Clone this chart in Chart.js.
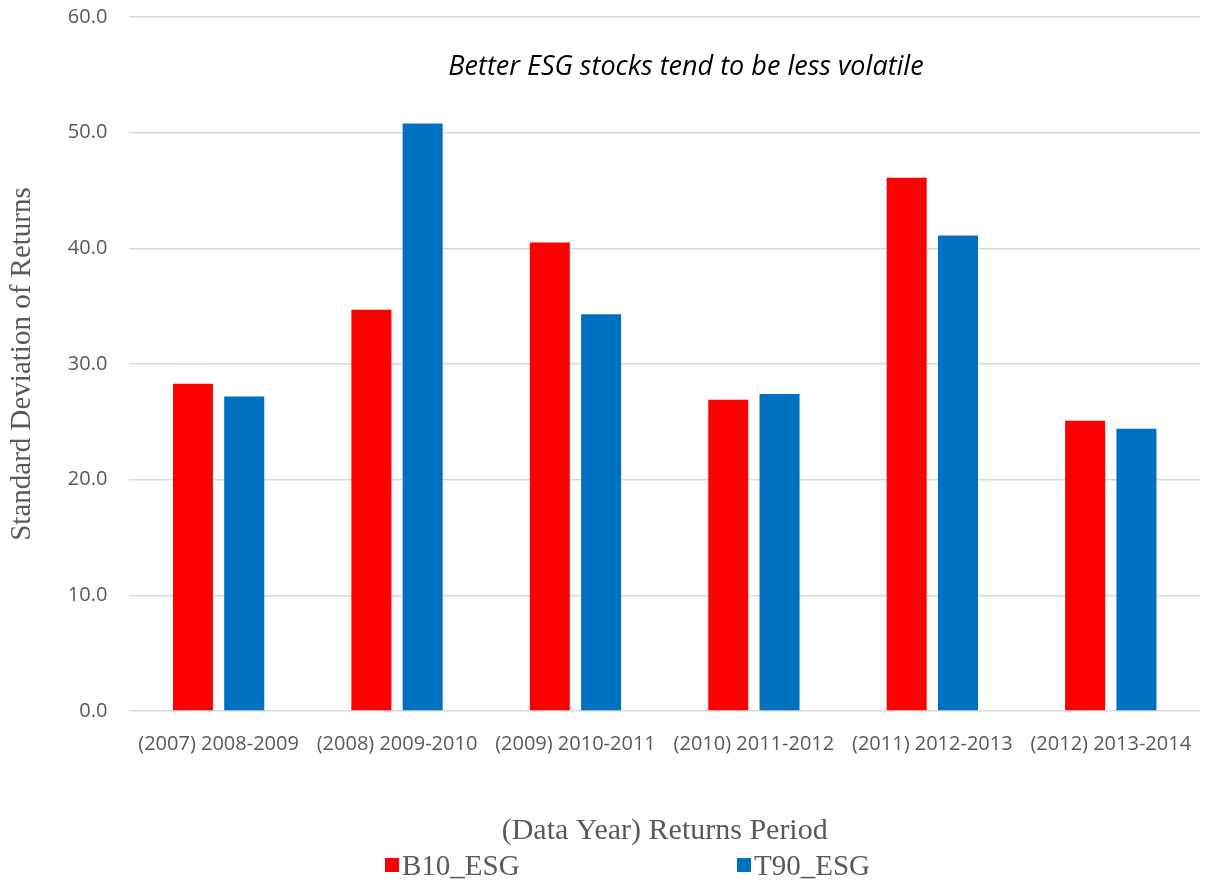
<!DOCTYPE html>
<html lang="en">
<head>
    <meta charset="UTF-8">
    <title>ESG Volatility</title>
    <script src="https://cdn.jsdelivr.net/npm/chart.js"></script>
    <style>
        body { margin: 0; background: #fff; }
    </style>
</head>
<body>
    <canvas id="esgChart" width="1214" height="888"></canvas>

    <script>
        const periods = ['(2007) 2008-2009', '(2008) 2009-2010', '(2009) 2010-2011',
                         '(2010) 2011-2012', '(2011) 2012-2013', '(2012) 2013-2014'];
        const b10Values = [28.3, 34.7, 40.5, 26.9, 46.1, 25.1];
        const t90Values = [27.2, 50.8, 34.3, 27.4, 41.1, 24.4];
        const seriesNames = ['B10_ESG', 'T90_ESG'];
        const seriesColors = ['#ff0000', '#0070c0'];

        // note text sits inside the plot area, and the legend is spread wide under the axis title
        const overlay = {
            id: 'overlay',
            afterDraw(chart) {
                const ctx = chart.ctx;
                const area = chart.chartArea;
                ctx.save();
                ctx.fillStyle = '#000';
                ctx.font = 'italic 27px "Open Sans"';
                ctx.textAlign = 'center';
                ctx.textBaseline = 'middle';
                ctx.fillText('Better ESG stocks tend to be less volatile', 686, area.top + 50);

                ctx.font = '29px "Liberation Serif"';
                ctx.textAlign = 'left';
                const legendY = chart.height - 22;
                const legendX = [385, 737];
                chart.data.datasets.forEach((ds, i) => {
                    ctx.fillStyle = ds.backgroundColor;
                    ctx.fillRect(legendX[i], legendY - 8, 14, 14);
                    ctx.fillStyle = '#595959';
                    ctx.fillText(ds.label, legendX[i] + 17, legendY + 1);
                });
                ctx.restore();
            }
        };

        const ctx = document.getElementById('esgChart').getContext('2d');
        new Chart(ctx, {
            type: 'bar',
            data: {
                labels: periods,
                datasets: [
                    { label: seriesNames[0], data: b10Values, backgroundColor: seriesColors[0] },
                    { label: seriesNames[1], data: t90Values, backgroundColor: seriesColors[1] }
                ]
            },
            options: {
                responsive: false,
                animation: false,
                categoryPercentage: 0.575,
                barPercentage: 0.78,
                layout: { padding: { top: 0, right: 14, bottom: 39, left: 5 } },
                plugins: {
                    legend: { display: false },
                    tooltip: { enabled: false }
                },
                scales: {
                    x: {
                        grid: { display: false },
                        border: { display: false },
                        ticks: {
                            color: '#595959',
                            font: { family: 'Open Sans', size: 20 },
                            maxRotation: 0,
                            autoSkip: false,
                            padding: 13
                        },
                        title: {
                            display: true,
                            text: '(Data Year) Returns Period',
                            color: '#595959',
                            font: { family: 'Liberation Serif', size: 30 },
                            padding: { top: 44, bottom: 0 }
                        }
                    },
                    y: {
                        min: 0,
                        max: 60,
                        grid: { color: '#d9d9d9', lineWidth: 1.5, drawTicks: true, tickLength: 17, tickColor: 'rgba(0,0,0,0)' },
                        border: { display: false },
                        ticks: {
                            stepSize: 10,
                            color: '#595959',
                            font: { family: 'Open Sans', size: 20 },
                            padding: 5,
                            callback: v => v.toFixed(1)
                        },
                        title: {
                            display: true,
                            text: 'Standard Deviation of Returns',
                            color: '#595959',
                            font: { family: 'Liberation Serif', size: 29 },
                            padding: { top: 0, bottom: 23 }
                        }
                    }
                }
            },
            plugins: [overlay]
        });
    </script>
</body>
</html>
